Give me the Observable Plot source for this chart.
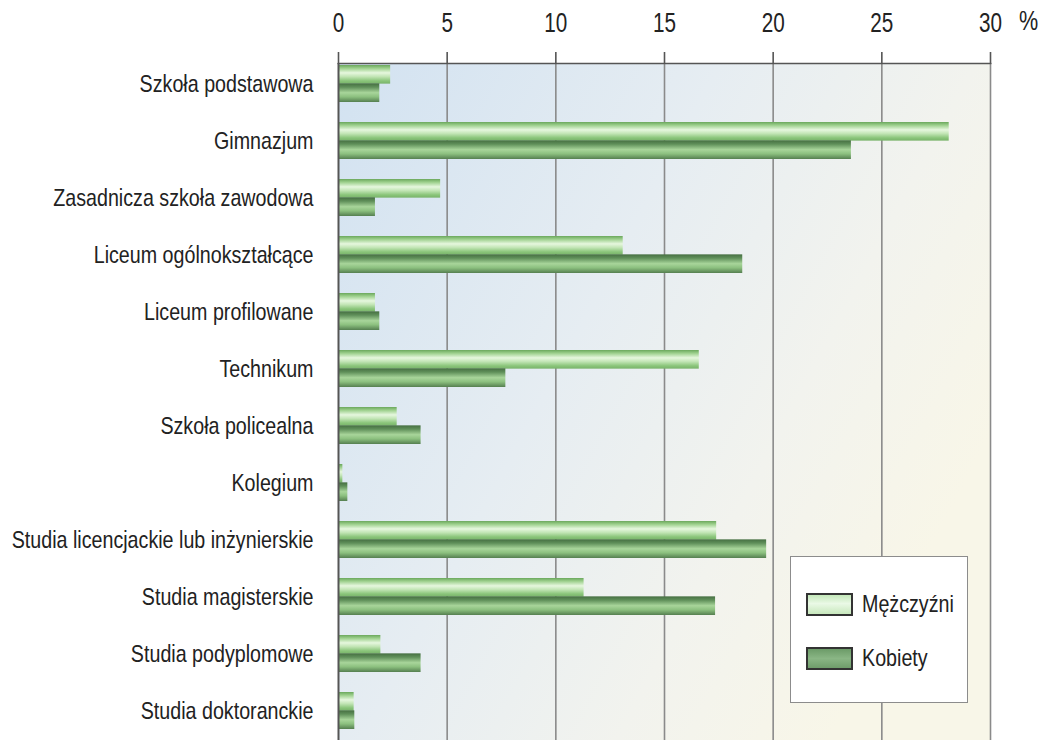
<!DOCTYPE html>
<html>
<head>
<meta charset="utf-8">
<script src="https://cdn.jsdelivr.net/npm/d3@7"></script>
<script src="https://cdn.jsdelivr.net/npm/@observablehq/plot@0.6"></script>
<style>
  html, body { margin: 0; padding: 0; background: #ffffff; }
  #wrap { position: relative; width: 1046px; height: 740px; overflow: hidden;
          font-family: "Liberation Sans", Arial, sans-serif; color: #222; }
  #legend { position: absolute; left: 790px; top: 556px; width: 176px; height: 145px;
            background: #ffffff; border: 1.5px solid #8c8c8c; }
  .item { position: absolute; left: 15px; display: flex; align-items: center; font-size: 24px; white-space: nowrap; }
  .item span { display: inline-block; transform: scaleX(0.82); transform-origin: left center; }
  .sw { width: 43px; height: 19px; border: 2px solid #333; margin-right: 9px; box-sizing: content-box; flex: none; }
  #sw-m { background: linear-gradient(#c4e8ba, #eaf9e6 45%, #c8e8bd); }
  #sw-k { background: linear-gradient(#6c9b68, #8ab685 50%, #6f9d6b); }
</style>
</head>
<body>
<div id="wrap">
  <div id="chart"></div>
  <div id="legend">
    <div class="item" style="top:33px"><div class="sw" id="sw-m"></div><span>Mężczyźni</span></div>
    <div class="item" style="top:87px"><div class="sw" id="sw-k"></div><span>Kobiety</span></div>
  </div>
</div>
<script>
const categories = [
  "Szkoła podstawowa",
  "Gimnazjum",
  "Zasadnicza szkoła zawodowa",
  "Liceum ogólnokształcące",
  "Liceum profilowane",
  "Technikum",
  "Szkoła policealna",
  "Kolegium",
  "Studia licencjackie lub inżynierskie",
  "Studia magisterskie",
  "Studia podyplomowe",
  "Studia doktoranckie"
];
const men   = [2.4, 28.1, 4.7, 13.1, 1.7, 16.6, 2.7, 0.2, 17.4, 11.3, 1.95, 0.72];
const women = [1.9, 23.6, 1.7, 18.6, 1.9,  7.7, 3.8, 0.43, 19.7, 17.35, 3.8, 0.75];
const xTicks = [0, 5, 10, 15, 20, 25, 30];
const seriesNames = ["Mężczyźni", "Kobiety"];

const data = categories.map((c, i) => ({category: c, men: men[i], women: women[i]}));

const halfBand = 18.35;

const svg = Plot.plot({
  width: 1046,
  height: 740,
  marginTop: 63,
  marginBottom: 0,
  marginLeft: 338,
  marginRight: 56,
  style: {fontFamily: '"Liberation Sans", Arial, sans-serif', color: "#222", background: "transparent"},
  x: {domain: [0, 30], axis: null},
  y: {domain: categories, range: [54, 740], paddingInner: 0.358, paddingOuter: 0.179, align: 0.5, axis: null},
  marks: [
    Plot.frame({fill: "url(#bgGrad)", stroke: null}),
    Plot.ruleX(xTicks.filter(d => d > 0), {stroke: "#8a8a8a", strokeWidth: 1.6}),
    Plot.barX(data, {y: "category", x: "men", fill: "url(#gradM)", insetBottom: halfBand}),
    Plot.barX(data, {y: "category", x: "women", fill: "url(#gradK)", insetTop: halfBand}),
    Plot.ruleX([0], {stroke: "#555", strokeWidth: 2}),
    Plot.frame({anchor: "top", stroke: "#555", strokeWidth: 1.6}),
    Plot.axisX({anchor: "top", ticks: xTicks, tickSize: 12, tickPadding: 20, fontSize: 28, label: null, stroke: "#555", strokeWidth: 1.6}),
    Plot.axisY({anchor: "left", tickSize: 0, tickPadding: 25, fontSize: 24, label: null}),
    Plot.text(["%"], {frameAnchor: "top-right", textAnchor: "middle", lineAnchor: "middle", dx: 38, dy: -42, fontSize: 27, fill: "#222", text: d => d})
  ]
});

// narrow the glyphs horizontally, as in the reference's condensed typeface
function condense(sel, s) {
  d3.select(svg).selectAll(sel).each(function() {
    const t = this.getAttribute("transform");
    if (t) {
      this.setAttribute("transform", t + ` scale(${s},1)`);
    } else {
      const x = +this.getAttribute("x") || 0, y = +this.getAttribute("y") || 0;
      this.setAttribute("x", 0); this.setAttribute("y", 0);
      this.setAttribute("transform", `translate(${x},${y}) scale(${s},1)`);
    }
  });
}
condense('g[aria-label="y-axis tick label"] text', 0.82);
condense('g[aria-label="x-axis tick label"] text', 0.74);
condense('g[aria-label="text"] text', 0.8);

const defs = d3.select(svg).insert("defs", ":first-child");
function grad(id, attrs, stops) {
  const g = defs.append("linearGradient").attr("id", id);
  for (const [k, v] of Object.entries(attrs)) g.attr(k, v);
  for (const [o, c] of stops) g.append("stop").attr("offset", o).attr("stop-color", c);
}
grad("bgGrad", {x1: 0, y1: 0, x2: 1, y2: 0.55}, [[0, "#d2e2f1"], [0.45, "#e6edf2"], [0.75, "#f2f3ee"], [1, "#f8f6e8"]]);
grad("gradM", {x1: 0, y1: 0, x2: 0, y2: 1}, [[0, "#6ba85c"], [0.18, "#9fd18f"], [0.42, "#e6f7de"], [0.62, "#c2e5b5"], [0.85, "#8ac57a"], [1, "#79b36a"]]);
grad("gradK", {x1: 0, y1: 0, x2: 0, y2: 1}, [[0, "#466f42"], [0.2, "#5f8f59"], [0.5, "#a8d59a"], [0.72, "#8cc07f"], [1, "#557f50"]]);

document.getElementById("chart").appendChild(svg);
</script>
</body>
</html>
